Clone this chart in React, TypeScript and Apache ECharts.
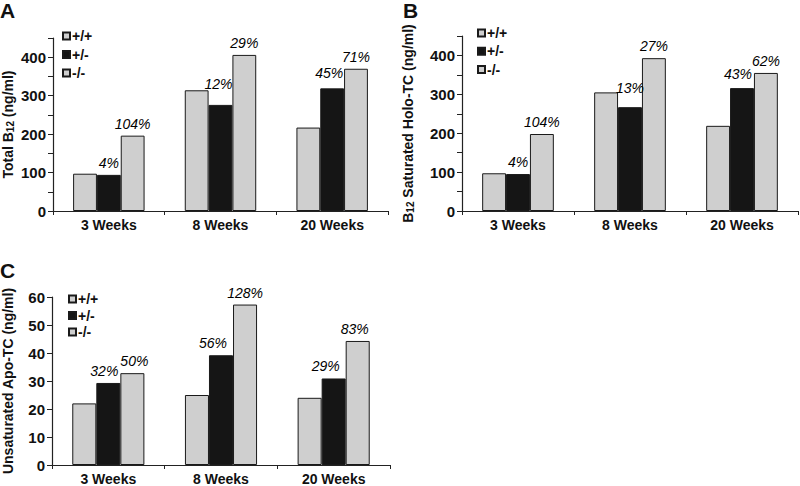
import React, { useEffect, useRef } from "react";
import * as echarts from "echarts";

const categories = ["3 Weeks", "8 Weeks", "20 Weeks"];
const seriesNames = ["+/+", "+/-", "-/-"];

// Panel A: Total B12 (ng/ml)
const aWT = [97, 314, 217];
const aHet = [94, 276, 319];
const aKO = [196, 406, 370];
const aHetPct = ["4%", "12%", "45%"];
const aKOPct = ["104%", "29%", "71%"];

// Panel B: B12 saturated Holo-TC (ng/ml)
const bWT = [97, 305, 219];
const bHet = [95, 267, 316];
const bKO = [198, 393, 355];
const bHetPct = ["4%", "13%", "43%"];
const bKOPct = ["104%", "27%", "62%"];

// Panel C: Unsaturated Apo-TC (ng/ml)
const cWT = [22, 25, 24];
const cHet = [29.3, 39.2, 30.9];
const cKO = [32.8, 57.3, 44.3];
const cHetPct = ["32%", "56%", "29%"];
const cKOPct = ["50%", "128%", "83%"];

// label nudges (layout only)
const aHetOff = [[0, 0], [-2, -9], [-3, -3]];
const aKOOff = [[0, 0], [0, 0], [0, 0]];
const bHetOff = [[0, 0], [0, -7], [-4, -2]];
const bKOOff = [[0, 0], [0, 0], [0, 0]];
const cHetOff = [[-4, 0], [-8, 0], [-8, 0]];
const cKOOff = [[2, 0], [0, 0], [-3, 0]];

const FONT = "'Liberation Sans', Arial, sans-serif";
const LIGHT = "#cfcfcf";
const DARK = "#151515";
const EDGE = "#1a1a1a";

function makeSeries(
  idx: number,
  wt: number[],
  het: number[],
  ko: number[],
  hetPct: string[],
  koPct: string[],
  hetOff: number[][],
  koOff: number[][]
) {
  const base = {
    type: "bar" as const,
    xAxisIndex: idx,
    yAxisIndex: idx,
    barGap: "0%",
    barCategoryGap: "36%",
  };
  const lbl = (texts: string[]) => ({
    show: true,
    position: "top",
    distance: 5,
    fontFamily: FONT,
    fontSize: 14,
    fontStyle: "italic",
    color: "#000",
    formatter: (p: any) => texts[p.dataIndex],
  });
  const withOff = (vals: number[], offs: number[][]) =>
    vals.map((v, i) => ({ value: v, label: { offset: offs[i] } }));
  return [
    {
      ...base,
      name: seriesNames[0],
      data: wt,
      itemStyle: { color: LIGHT, borderColor: EDGE, borderWidth: 1 },
    },
    {
      ...base,
      name: seriesNames[1],
      data: withOff(het, hetOff),
      itemStyle: { color: DARK, borderColor: EDGE, borderWidth: 1 },
      label: lbl(hetPct),
    },
    {
      ...base,
      name: seriesNames[2],
      data: withOff(ko, koOff),
      itemStyle: { color: LIGHT, borderColor: EDGE, borderWidth: 1 },
      label: lbl(koPct),
    },
  ];
}

function xAxis(idx: number) {
  return {
    type: "category",
    gridIndex: idx,
    data: categories,
    axisLine: { lineStyle: { color: "#222", width: 1.2 } },
    axisTick: { show: true, alignWithLabel: false, length: 4, lineStyle: { color: "#222" } },
    axisLabel: {
      fontFamily: FONT,
      fontSize: 14,
      fontWeight: "bold",
      color: "#111",
      margin: 7,
    },
  };
}

function yAxis(idx: number, max: number, interval: number, labelEvery: number, name: string, nameGap: number) {
  return {
    type: "value",
    gridIndex: idx,
    min: 0,
    max,
    interval,
    name,
    nameLocation: "middle",
    nameGap,
    nameTextStyle: {
      fontFamily: FONT,
      fontSize: 14,
      fontWeight: "bold",
      color: "#111",
      rich: {
        sub: { fontFamily: FONT, fontSize: 10, fontWeight: "bold", color: "#111", verticalAlign: "bottom", padding: [4, 0, 0, 0] },
      },
    },
    splitLine: { show: false },
    axisLine: { show: true, lineStyle: { color: "#222", width: 1.2 } },
    axisTick: { show: true, inside: false, length: 5, lineStyle: { color: "#222" } },
    axisLabel: {
      fontFamily: FONT,
      fontSize: 15,
      fontWeight: "bold",
      color: "#111",
      margin: 7,
      formatter: (v: number) => (v % labelEvery === 0 ? String(v) : ""),
    },
  };
}

function legend(left: number, top: number, gap: number) {
  return {
    orient: "vertical",
    left,
    top,
    padding: 0,
    itemGap: gap,
    itemWidth: 7,
    itemHeight: 7,
    icon: "rect",
    selectedMode: false,
    data: seriesNames,
    textStyle: {
      fontFamily: FONT,
      fontSize: 14,
      fontWeight: "bold",
      color: "#111",
      lineHeight: 14,
      padding: [0, 0, 0, -3],
    },
  };
}

export default function App() {
  const ref = useRef<HTMLDivElement>(null);
  useEffect(() => {
    if (!ref.current) return;
    const chart = echarts.init(ref.current, null, { renderer: "svg" });
    const titleStyle = { fontFamily: FONT, fontSize: 21, fontWeight: "bold", color: "#111" };
    chart.setOption({
      animation: false,
      backgroundColor: "#fff",
      title: [
        { text: "A", left: 0, top: 0, padding: 0, textStyle: titleStyle },
        { text: "B", left: 403, top: 0, padding: 0, textStyle: titleStyle },
        { text: "C", left: 0, top: 260, padding: 0, textStyle: titleStyle },
      ],
      legend: [legend(62, 29, 4.5), legend(477, 26, 4.3), legend(68, 292, 2.5)],
      grid: [
        { left: 52, top: 38, width: 336, height: 173 },
        { left: 462, top: 36, width: 336, height: 175 },
        { left: 50, top: 297, width: 340, height: 172 },
      ],
      xAxis: [xAxis(0), xAxis(1), xAxis(2)],
      yAxis: [
        yAxis(0, 450, 50, 100, "Total B{sub|12} (ng/ml)", 38),
        yAxis(1, 450, 50, 100, "B{sub|12} Saturated Holo-TC (ng/ml)", 47),
        yAxis(2, 60, 10, 10, "Unsaturated Apo-TC (ng/ml)", 37),
      ],
      series: [
        ...makeSeries(0, aWT, aHet, aKO, aHetPct, aKOPct, aHetOff, aKOOff),
        ...makeSeries(1, bWT, bHet, bKO, bHetPct, bKOPct, bHetOff, bKOOff),
        ...makeSeries(2, cWT, cHet, cKO, cHetPct, cKOPct, cHetOff, cKOOff),
      ],
    });
    return () => chart.dispose();
  }, []);
  return (
    <div
      ref={ref}
      style={{ position: "fixed", left: 0, top: 0, width: 800, height: 486, background: "#fff" }}
    />
  );
}
